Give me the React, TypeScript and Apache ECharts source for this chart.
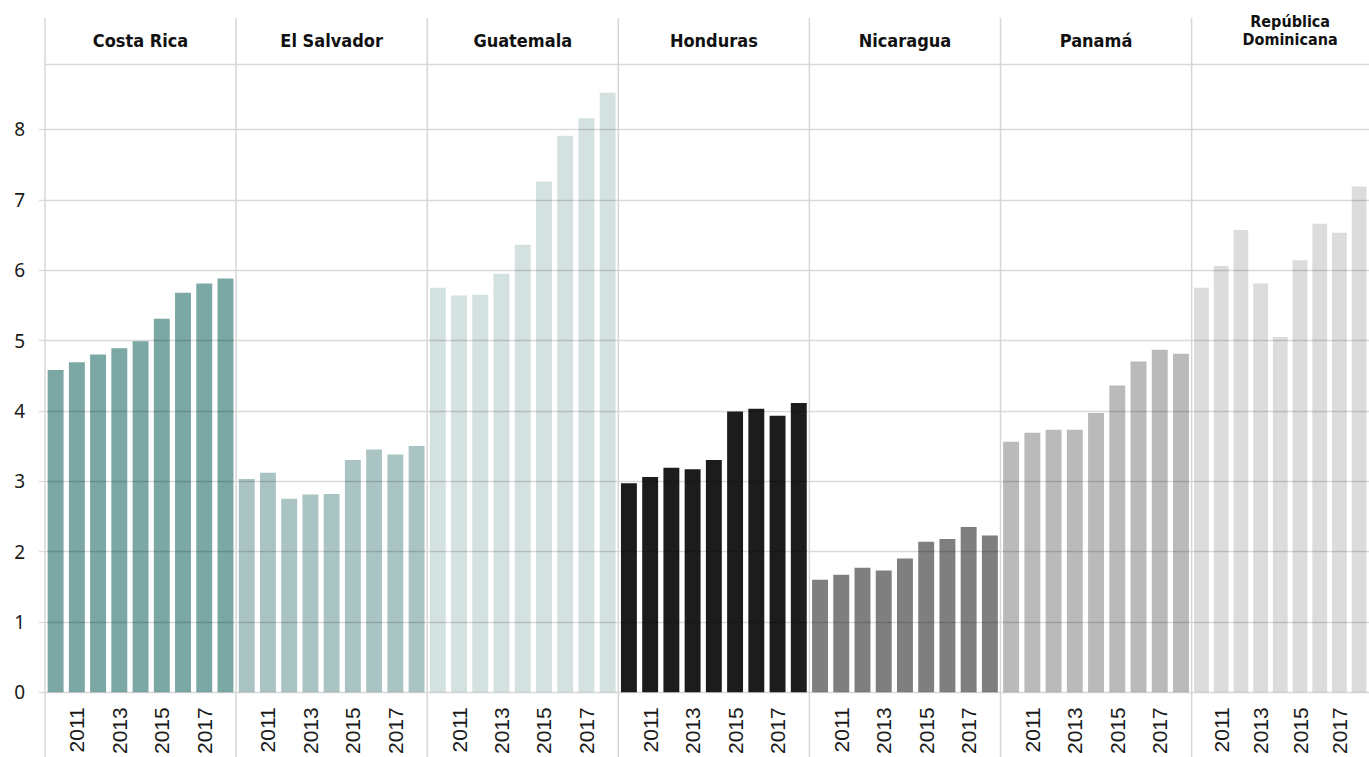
import React, { useEffect, useRef } from "react";
import * as echarts from "echarts";

const years = ["2010", "2011", "2012", "2013", "2014", "2015", "2016", "2017", "2018"];
const countries = ["Costa Rica", "El Salvador", "Guatemala", "Honduras", "Nicaragua", "Panamá", "República\nDominicana"];

const costaRica = [4.58, 4.69, 4.8, 4.89, 4.99, 5.31, 5.68, 5.81, 5.88];
const elSalvador = [3.03, 3.12, 2.75, 2.81, 2.82, 3.3, 3.45, 3.38, 3.5];
const guatemala = [5.75, 5.64, 5.65, 5.95, 6.36, 7.26, 7.91, 8.16, 8.52];
const honduras = [2.97, 3.06, 3.19, 3.17, 3.3, 3.99, 4.03, 3.93, 4.11];
const nicaragua = [1.6, 1.67, 1.77, 1.73, 1.9, 2.14, 2.18, 2.35, 2.23];
const panama = [3.56, 3.69, 3.73, 3.73, 3.97, 4.36, 4.7, 4.87, 4.81];
const repDominicana = [5.75, 6.06, 6.57, 5.81, 5.05, 6.14, 6.66, 6.53, 7.19];

const seriesValues = [costaRica, elSalvador, guatemala, honduras, nicaragua, panama, repDominicana];
const colors = ["#7ba7a4", "#a9c4c3", "#d3e1e0", "#1c1c1c", "#7f7f7f", "#bababa", "#dcdcdc"];

const Y_MAX = 8.93;

export default function App() {
  const ref = useRef<HTMLDivElement>(null);
  useEffect(() => {
    if (!ref.current) return;
    const chart = echarts.init(ref.current, null, { renderer: "svg" });
    const left0 = 45;
    const panelW = 191.1;
    const top = 64;
    const bottom = 693;
    const grids: any[] = [];
    const xAxes: any[] = [];
    const yAxes: any[] = [];
    const series: any[] = [];
    const graphics: any[] = [];
    countries.forEach((name, k) => {
      const left = left0 + panelW * k;
      grids.push({ left, top, width: panelW, height: bottom - top, containLabel: false });
      xAxes.push({
        type: "category",
        gridIndex: k,
        data: years,
        axisLine: { show: false },
        axisTick: { show: false },
        axisLabel: {
          rotate: 90,
          margin: 15,
          interval: (i: number) => i % 2 === 1,
          fontSize: 21,
          fontFamily: "'Liberation Sans', Arial, sans-serif",
          color: "#1a1a1a",
        },
      });
      yAxes.push({
        type: "value",
        gridIndex: k,
        min: 0,
        max: Y_MAX,
        interval: 1,
        z: 5,
        axisLine: { show: false },
        axisTick: { show: k === 0, length: 6, lineStyle: { color: "#dadada", width: 1.3 } },
        axisLabel: {
          show: k === 0,
          showMaxLabel: false,
          margin: 20,
          fontSize: 19,
          fontFamily: "'Noto Sans', sans-serif",
          color: "#1a1a1a",
          formatter: (v: number) => (Number.isInteger(v) ? String(v) : ""),
        },
        splitLine: { show: true, lineStyle: { color: "rgba(0,0,0,0.15)", width: 1.3 } },
      });
      series.push({
        type: "bar",
        xAxisIndex: k,
        yAxisIndex: k,
        data: seriesValues[k],
        barCategoryGap: "25%",
        itemStyle: { color: colors[k] },
        z: 2,
      });
      const multi = name.indexOf("\n") >= 0;
      graphics.push({
        type: "text",
        x: left + panelW / 2 + (multi ? 3 : 0),
        y: multi ? 30 : 40,
        z: 10,
        style: {
          text: name,
          fill: "#111",
          font: multi
            ? "bold 16px 'DejaVu Sans Condensed', sans-serif"
            : "bold 18px 'DejaVu Sans Condensed', sans-serif",
          align: "center",
          verticalAlign: "middle",
          lineHeight: 18,
        },
      });
    });
    for (let k = 0; k <= countries.length; k++) {
      const x = left0 + panelW * k;
      graphics.push({
        type: "line",
        z: 10,
        shape: { x1: x, y1: 18, x2: x, y2: 757 },
        style: { stroke: "#d6d6d6", lineWidth: 1.5 },
      });
    }
    chart.setOption({
      animation: false,
      backgroundColor: "#ffffff",
      grid: grids,
      xAxis: xAxes,
      yAxis: yAxes,
      series,
      graphic: graphics,
    });
    return () => chart.dispose();
  }, []);
  return (
    <div
      ref={ref}
      style={{ position: "fixed", left: 0, top: 0, width: 1369, height: 757, overflow: "hidden" }}
    />
  );
}
